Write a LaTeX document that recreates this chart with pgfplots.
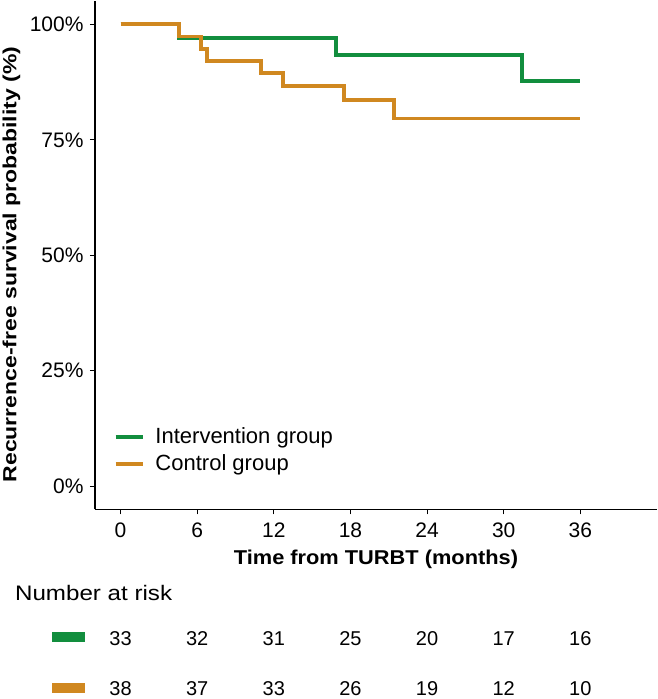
\documentclass[border=0pt]{standalone}
\usepackage{pgfplots}
\pgfplotsset{compat=1.18}
\usepackage{fontspec}
\setmainfont{Liberation Sans}
\newfontfamily\ylabfont[FakeStretch=1.21]{Liberation Sans}
\newfontfamily\xlabfont[FakeStretch=1.09]{Liberation Sans}
\newfontfamily\riskfont[FakeStretch=1.15]{Liberation Sans}
\definecolor{kmgreen}{RGB}{18,142,62}
\definecolor{kmorange}{RGB}{208,136,32}
\begin{document}
\begin{tikzpicture}
\begin{axis}[
 name=main, at={(0,0)}, anchor=south west,
 scale only axis, width=562bp, height=508bp,
 xmin=-2, xmax=42, ymin=-5, ymax=105,
 axis x line*=bottom, axis y line*=left,
 axis line style={line width=1.1bp, black, -},
 xtick={0,6,12,18,24,30,36}, xticklabels={0,6,12,18,24,30,36},
 ytick={0,25,50,75,100}, yticklabels={0\%,25\%,50\%,75\%,100\%},
 tick align=outside, major tick length=5bp, tick style={line width=1.1bp, black},
 ticklabel style={font=\fontsize{21bp}{25bp}\selectfont, text=black},
 xticklabel style={yshift=-5bp},
 yticklabel style={xshift=-3bp},
 xlabel={Time from TURBT (months)},
 ylabel={Recurrence-free survival probability (\%)},
 xlabel style={font=\xlabfont\bfseries\fontsize{20bp}{24bp}\selectfont, at={(axis description cs:0.5,-0.1096)}, anchor=base},
 ylabel style={font=\ylabfont\bfseries\fontsize{19bp}{23bp}\selectfont, at={(axis description cs:-0.1397,0.482)}, anchor=base},
 legend style={draw=none, fill=none, at={(axis cs:-0.56,13.1)}, anchor=north west,
   font=\fontsize{22bp}{26bp}\selectfont, inner sep=0pt, row sep=5.7bp},
 legend cell align=left,
 legend image code/.code={\draw[#1, line width=4bp] (0bp,0bp) -- (27bp,0bp); \path (36bp,0bp);},
]
\addplot[kmgreen, line width=3.8bp, const plot] coordinates {
 (0,100) (4.6,96.97) (16.85,93.3) (31.4,87.8) (36,87.8)};
\addplot[kmorange, line width=3.8bp, const plot] coordinates {
 (0,100) (4.6,97.37) (6.27,94.74) (6.76,92.1) (11.0,89.4) (12.7,86.6) (17.5,83.6) (21.4,79.6) (36,79.6)};
\legend{Intervention group, Control group}
\end{axis}
\begin{axis}[
 at={(0,-190.7bp)}, anchor=south west,
 scale only axis, width=562bp, height=100bp,
 xmin=-2, xmax=42, ymin=0, ymax=100,
 hide axis, clip=false,
 every node near coord/.append style={font=\fontsize{20bp}{24bp}\selectfont, anchor=center, text=black},
]
\addplot[draw=none, mark=none, nodes near coords, point meta=explicit symbolic, nodes near coords align=center]
 table[meta=n, row sep=\\] {x y n \\ 0 61.2 33 \\ 6 61.2 32 \\ 12 61.2 31 \\ 18 61.2 25 \\ 24 61.2 20 \\ 30 61.2 17 \\ 36 61.2 16 \\};
\addplot[draw=none, mark=none, nodes near coords, point meta=explicit symbolic, nodes near coords align=center]
 table[meta=n, row sep=\\] {x y n \\ 0 11 38 \\ 6 11 37 \\ 12 11 33 \\ 18 11 26 \\ 24 11 19 \\ 30 11 12 \\ 36 11 10 \\};
\fill[kmgreen] (axis cs:-5.39,58.3) rectangle (axis cs:-2.78,68.3);
\fill[kmorange] (axis cs:-5.39,6.7) rectangle (axis cs:-2.78,16.7);
\node[anchor=base west, font=\riskfont\fontsize{21bp}{25bp}\selectfont, inner sep=0pt] at (axis cs:-8.27,100) {Number at risk};
\end{axis}
\pgfresetboundingbox
\path[use as bounding box] (-95bp,-189.7bp) rectangle (563bp,509.3bp);
\end{tikzpicture}
\end{document}
